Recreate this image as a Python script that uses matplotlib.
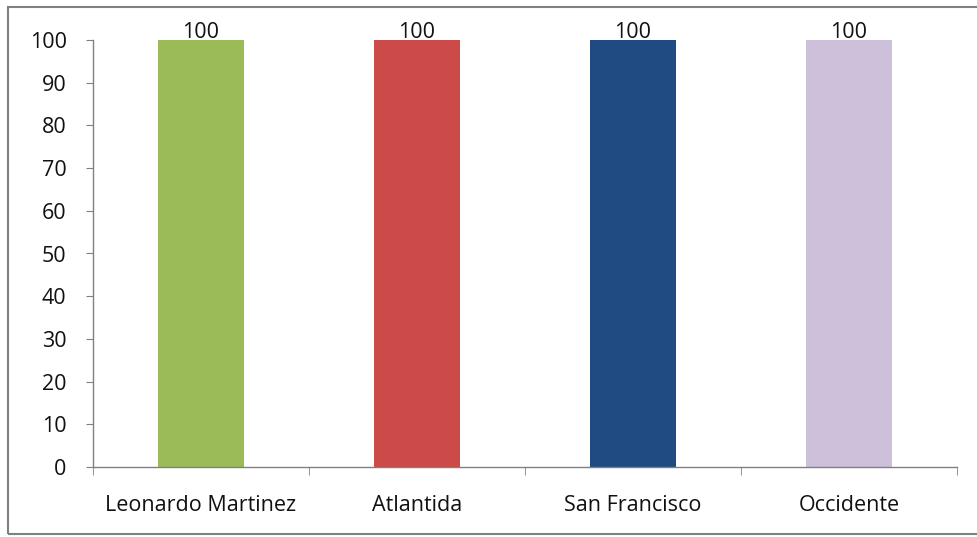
import matplotlib
matplotlib.use("Agg")
import matplotlib.pyplot as plt
from matplotlib.patches import Rectangle

categories = ["Leonardo Martinez", "Atlantida", "San Francisco", "Occidente"]
values = [100, 100, 100, 100]
colors = ["#9BBB59", "#CC4A47", "#1F4A82", "#CCC0DA"]
yticks = [0, 10, 20, 30, 40, 50, 60, 70, 80, 90, 100]

plt.rcParams['font.family'] = ['Open Sans', 'DejaVu Sans']
fig = plt.figure(figsize=(9.77, 5.37), dpi=100)
fig.patch.set_facecolor("white")
fig.patches.append(Rectangle((8/977, 3/537), 1.2, 527/537, transform=fig.transFigure,
                             fill=False, edgecolor="#808080", linewidth=1.5))

ax = fig.add_axes([93/977, 70/537, 864/977, 427/537])
x = list(range(len(categories)))
ax.bar(x, values, width=0.4, color=colors)
for xi, v in zip(x, values):
    ax.text(xi, v + 0.4, f"{v}", ha="center", va="baseline", fontsize=15.5, color="#111111")

ax.set_xlim(-0.5, len(categories) - 0.5)
ax.set_ylim(0, 100)
ax.set_yticks(yticks)
ax.set_yticklabels([str(t) for t in yticks], fontsize=15.5, color="#111111")
ax.set_xticks(x)
ax.set_xticklabels(categories, fontsize=15.5, color="#111111")
ax.tick_params(axis="x", length=0, pad=20)
ax.set_xticks([i - 0.5 for i in range(len(categories) + 1)], minor=True)
ax.tick_params(axis="x", which="minor", length=6, color="#808080")
ax.tick_params(axis="y", length=5, color="#808080", pad=14)
for s in ["top", "right"]:
    ax.spines[s].set_visible(False)
for s in ["left", "bottom"]:
    ax.spines[s].set_color("#808080")
    ax.spines[s].set_linewidth(1)

fig.savefig("out.png", dpi=100)
